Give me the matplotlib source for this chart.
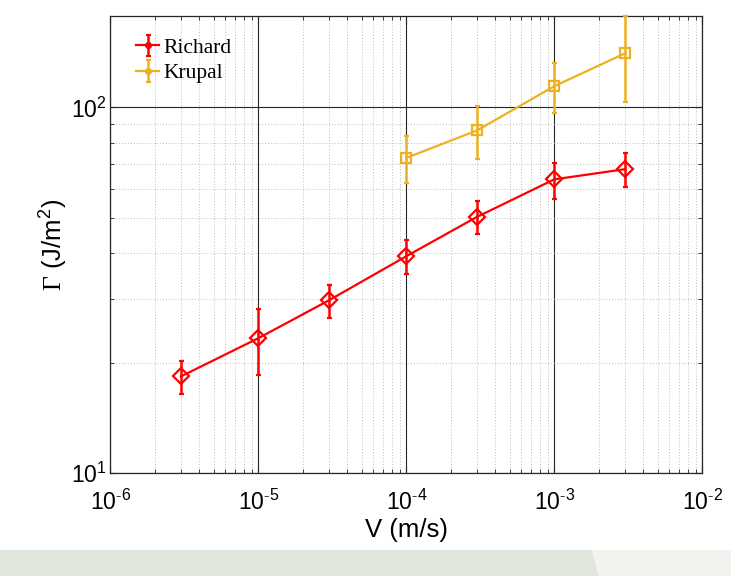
import numpy as np
import matplotlib
matplotlib.use("agg")
import matplotlib.pyplot as plt
from matplotlib.patches import Polygon
from matplotlib.lines import Line2D
from matplotlib.container import ErrorbarContainer
from matplotlib.legend_handler import HandlerErrorbar
from matplotlib.ticker import LogLocator, NullFormatter, FuncFormatter

plt.rcParams["font.family"] = ["Liberation Sans", "DejaVu Sans"]
plt.rcParams["mathtext.fontset"] = "custom"
plt.rcParams["mathtext.rm"] = "Liberation Serif"
plt.rcParams["mathtext.default"] = "regular"
plt.rcParams["axes.unicode_minus"] = False

# Richard data: velocity (m/s), fracture energy (J/m^2), error bar limits
v_richard = [3e-6, 1e-5, 3e-5, 1e-4, 3e-4, 1e-3, 3e-3]
g_richard = [18.4, 23.4, 29.7, 39.2, 50.2, 63.6, 67.8]
lo_richard = [16.5, 18.6, 26.5, 35.0, 45.1, 56.3, 60.8]
hi_richard = [20.3, 28.1, 32.8, 43.4, 55.5, 70.6, 75.3]

# Krupal data
v_krupal = [1e-4, 3e-4, 1e-3, 3e-3]
g_krupal = [72.8, 86.5, 114.3, 140.5]
lo_krupal = [62.1, 72.1, 96.3, 103.8]
hi_krupal = [83.8, 100.6, 131.9, 177.6]

red = "#FF0000"
gold = "#EDB120"

fig = plt.figure(figsize=(7.31, 5.76), dpi=100)
fig.patch.set_facecolor("white")

# slide background strip at the bottom
fig.patches.append(Polygon([(0, 0), (599 / 731., 0), (592 / 731., 26 / 576.),
                            (0, 26 / 576.)], closed=True,
                           transform=fig.transFigure, fc="#E1E6DB", ec="none"))
fig.patches.append(Polygon([(599 / 731., 0), (1, 0), (1, 26 / 576.),
                            (592 / 731., 26 / 576.)], closed=True,
                           transform=fig.transFigure, fc="#F2F3EE", ec="none"))

ax = fig.add_axes([0.1509, 0.1783, 0.8098, 0.7939])


def _err(g, lo, hi):
    g, lo, hi = np.asarray(g), np.asarray(lo), np.asarray(hi)
    return np.vstack([g - lo, hi - g])


eb_kw = dict(lw=1.6, mfc="none", mew=1.6, capsize=1.8, capthick=2.6,
             elinewidth=1.8, zorder=4)
ax.errorbar(v_richard, g_richard, yerr=_err(g_richard, lo_richard, hi_richard),
            color=red, marker="D", ms=8, label="Richard", **eb_kw)
ax.errorbar(v_krupal, g_krupal, yerr=_err(g_krupal, lo_krupal, hi_krupal),
            color=gold, marker="s", ms=6.5, label="Krupal", clip_on=False,
            **eb_kw)

ax.set_xscale("log")
ax.set_yscale("log")
ax.set_xlim(1e-6, 1e-2)
ax.set_ylim(10, 177.8)


def _pow10(val, pos):
    e = int(np.round(np.log10(val)))
    if e < 0:
        return r"$10^{\text{-}%d}$" % (-e)
    return r"$10^{%d}$" % e


for axis in (ax.xaxis, ax.yaxis):
    axis.set_major_locator(LogLocator(base=10, numticks=10))
    axis.set_major_formatter(FuncFormatter(_pow10))
    axis.set_minor_locator(LogLocator(base=10, subs=np.arange(2, 10),
                                      numticks=50))
    axis.set_minor_formatter(NullFormatter())

ax.grid(which="major", color="#262626", lw=0.8, ls="-")
ax.grid(which="minor", color="#BDBDBD", lw=0.7, ls=(0, (1, 2)))
ax.set_axisbelow(True)

ax.tick_params(which="both", direction="in", top=True, right=True,
               color="#262626")
ax.tick_params(which="major", length=5, width=0.8, labelsize=16.5)
ax.tick_params(axis="x", which="major", pad=12)
ax.tick_params(axis="y", which="major", pad=2.5)
ax.tick_params(which="minor", length=3, width=0.6)
for s in ax.spines.values():
    s.set_color("#262626")
    s.set_linewidth(0.9)

ax.set_xlabel("V (m/s)", fontsize=18.5, labelpad=2)
ax.set_ylabel(r"$\mathrm{\Gamma}$ (J/m$^2$)", fontsize=18.5, labelpad=1)


# legend handles show a small filled dot instead of the open markers
def _dot(handle, orig):
    handle.update_from(orig)
    if isinstance(orig, Line2D) and orig.get_marker() in ("D", "s"):
        handle.set_marker("o")
        handle.set_markersize(3.5)
        handle.set_markerfacecolor(orig.get_color())


leg = ax.legend(loc="upper left", bbox_to_anchor=(0.043, 0.952), frameon=False,
                prop={"family": "Liberation Serif", "size": 15.5},
                handlelength=1.1, handletextpad=0.2, labelspacing=0.25,
                borderpad=0, borderaxespad=0,
                handler_map={ErrorbarContainer: HandlerErrorbar(update_func=_dot)})

fig.savefig("out.png", dpi=100, facecolor=fig.get_facecolor())
